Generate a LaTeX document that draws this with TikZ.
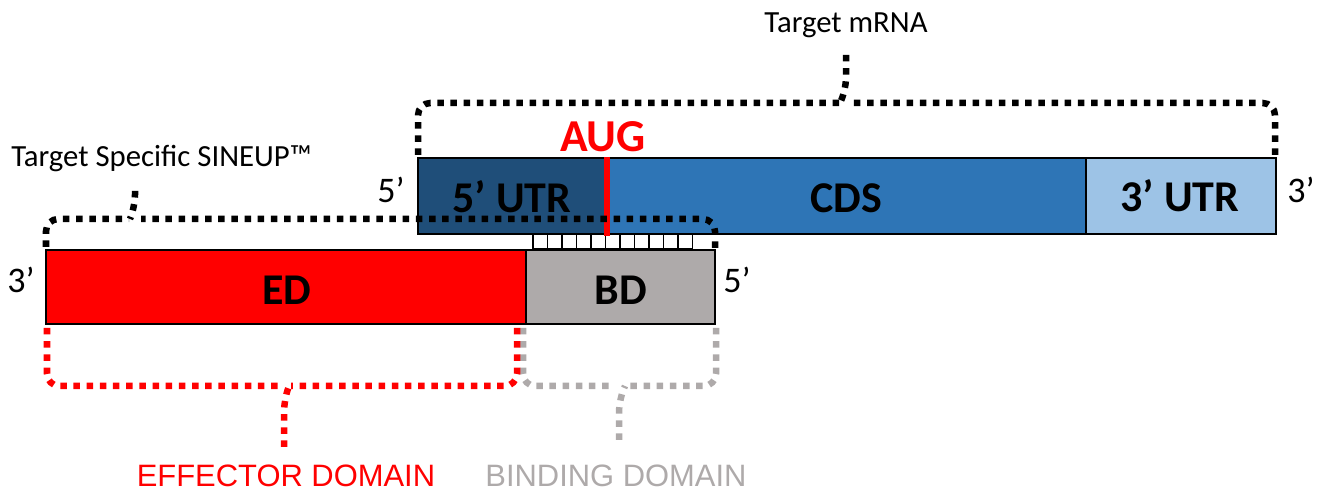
\documentclass[tikz,border=0pt]{standalone}
\usepackage{fontspec}
\setmainfont{Carlito}
\newfontfamily\domainfont{Liberation Sans}
\usepackage{tikz}
\usetikzlibrary{positioning}

\definecolor{utrdark}{HTML}{1F4E79}
\definecolor{cdsblue}{HTML}{2E75B6}
\definecolor{utrlight}{HTML}{9DC3E6}
\definecolor{bdgray}{HTML}{AEAAAA}

\tikzset{
	seg/.style={draw=black, line width=0.8pt},
	seglabel/.style={font=\bfseries\fontsize{25}{30}\selectfont, anchor=base},
	endlabel/.style={font=\fontsize{20.5}{24}\selectfont, anchor=base},
	toplabel/.style={font=\fontsize{17.5}{21}\selectfont, anchor=base},
	domainlabel/.style={font=\domainfont\fontsize{17.6}{21}\selectfont, anchor=base},
	brace/.style={line width=3.7pt, dash pattern=on 3.7pt off 3.8pt, rounded corners=7pt},
}

\begin{document}
\begin{tikzpicture}[x=0.02cm, y=-0.02cm]
\useasboundingbox (0,0) rectangle (1323,492);

% base pairing between the two strands
\foreach \i in {0,...,10}
	\draw[fill=white, line width=0.6pt] (533+14.5*\i,234) rectangle (547.5+14.5*\i,249);

% target mRNA
\draw[seg, fill=utrdark] (418,158) rectangle (608,234);
\draw[seg, fill=cdsblue] (608,158) rectangle (1086,234);
\draw[seg, fill=utrlight] (1086,158) rectangle (1276,234);
\draw[red, line width=3.8pt] (607,157) -- (607,236);

% SINEUP
\draw[seg, fill=red] (46,250) rectangle (526,324);
\draw[seg, fill=bdgray] (526,250) rectangle (715,324);

% labels
\node[seglabel] (utr5) at (512,213) {5’ UTR};
\node[seglabel] (cds) at (846,213) {CDS};
\node[seglabel] (utr3) at (1180,212) {3’ UTR};
\node[seglabel] (ed) at (287,305) {ED};
\node[seglabel] (bd) at (621,305) {BD};
\node[seglabel, text=red, font=\bfseries\fontsize{26}{30}\selectfont] (aug) at (603,152) {AUG};
\node[endlabel] (m5) at (391,203) {5’};
\node[endlabel] (m3) at (1301,203) {3’};
\node[endlabel] (s3) at (21,293) {3’};
\node[endlabel] (s5) at (737,293) {5’};
\node[toplabel] (mrna) at (846,33) {Target mRNA};
\node[toplabel, anchor=base west, inner sep=0pt] (sineup) at (11,167) {Target Specific SINEUP™};
\node[domainlabel, text=red] (effector) at (286,487) {EFFECTOR DOMAIN};
\node[domainlabel, text=bdgray] (binding) at (616,487) {BINDING DOMAIN};

% brackets
\draw[brace] (418,155) -- (418,103) -- (840,103);
\draw[brace] (1275,155) -- (1275,103) -- (852,103);
\draw[brace] (846,55) -- (846,90) -- (840,103);
\draw[brace] (46,247) -- (46,219) -- (129,219);
\draw[brace] (715,248) -- (715,219) -- (141,219);
\draw[brace] (135,191) -- (135,207) -- (130,219);
\draw[brace, bdgray] (523,328) -- (523,386) -- (613,386);
\draw[brace, bdgray] (716,328) -- (716,386) -- (625,386);
\draw[brace, bdgray] (619,440) -- (619,400) -- (625,386);
\draw[brace, red] (47,328) -- (47,386) -- (279,386);
\draw[brace, red] (517,328) -- (517,386) -- (291,386);
\draw[brace, red] (284,447) -- (284,400) -- (289,386);
\end{tikzpicture}
\end{document}
